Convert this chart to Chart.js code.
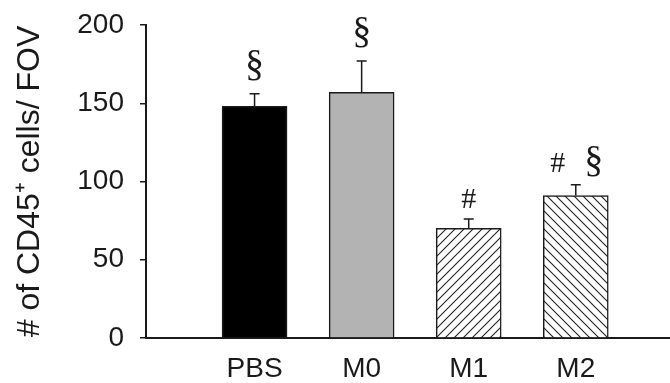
<!DOCTYPE html>
<html>
<head>
<meta charset="utf-8">
<script src="https://cdn.jsdelivr.net/npm/chart.js@4"></script>
<style>
  html, body { margin: 0; padding: 0; background: #fff; }
</style>
</head>
<body>
<canvas id="chart" width="670" height="383"></canvas>
<script>
// Data
const categories = ["PBS", "M0", "M1", "M2"];
const cellCounts = [148, 157, 70, 91];
const errors = [8, 20, 6, 7];
const markers = [["§"], ["§"], ["#"], ["#", "§"]];
const yTicks = [0, 50, 100, 150, 200];

const canvas = document.getElementById("chart");
const ink = "#1a1a1a";

// Hatch fill for M1 ("/") and M2 ("\")
function hatch(dir) {
    const s = 9;
    const tile = document.createElement("canvas");
    tile.width = s;
    tile.height = s;
    const g = tile.getContext("2d");
    g.fillStyle = "#fff";
    g.fillRect(0, 0, s, s);
    g.strokeStyle = "#222";
    g.lineWidth = 1.1;
    g.beginPath();
    if (dir > 0) {
        g.moveTo(-1, s + 1); g.lineTo(s + 1, -1);
        g.moveTo(-1, 1); g.lineTo(1, -1);
        g.moveTo(s - 1, s + 1); g.lineTo(s + 1, s - 1);
    } else {
        g.moveTo(-1, -1); g.lineTo(s + 1, s + 1);
        g.moveTo(s - 1, -1); g.lineTo(s + 1, 1);
        g.moveTo(-1, s - 1); g.lineTo(1, s + 1);
    }
    g.stroke();
    return canvas.getContext("2d").createPattern(tile, "repeat");
}

const fills = ["#000000", "#b3b3b3", hatch(1), hatch(-1)];

// Error bars + significance marks
const errorBars = {
    id: "errorBars",
    afterDatasetsDraw(chart) {
        const { ctx, scales: { y } } = chart;
        const bars = chart.getDatasetMeta(0).data;
        ctx.save();
        ctx.strokeStyle = ink;
        ctx.lineWidth = 1.5;
        bars.forEach((bar, i) => {
            const top = y.getPixelForValue(cellCounts[i] + errors[i]);
            ctx.beginPath();
            ctx.moveTo(bar.x, bar.y);
            ctx.lineTo(bar.x, top);
            ctx.moveTo(bar.x - 5, top);
            ctx.lineTo(bar.x + 5, top);
            ctx.stroke();

            const list = markers[i];
            ctx.fillStyle = ink;
            ctx.textAlign = "center";
            ctx.textBaseline = "alphabetic";
            list.forEach((m, k) => {
                const dx = (k - (list.length - 1) / 2) * 36;
                ctx.font = (m === "§" ? "38px" : "30px") + " 'Liberation Serif', 'Times New Roman', serif";
                ctx.fillText(m, bar.x + dx, top - (list.length > 1 ? 13 : m === "§" ? 18 : 11));
            });
        });
        ctx.restore();
    }
};

new Chart(canvas, {
    type: "bar",
    data: {
        datasets: [{
            data: categories.map((c, i) => ({ x: i, y: cellCounts[i] })),
            backgroundColor: fills,
            borderColor: ink,
            borderWidth: 1.5,
            barThickness: 65,
        }],
    },
    options: {
        responsive: false,
        animation: false,
        devicePixelRatio: 1,
        layout: { padding: { top: 25, right: 0, left: 0, bottom: 0 } },
        plugins: { legend: { display: false }, tooltip: { enabled: false } },
        scales: {
            x: {
                type: "linear",
                offset: false,
                min: -1.014,
                max: 3.88,
                afterBuildTicks: (s) => { s.ticks = categories.map((c, i) => ({ value: i })); },
                afterFit: (s) => { s.height = 45; s.paddingLeft = 0; s.paddingRight = 0; },
                grid: { display: false, drawTicks: false, offset: false },
                border: { display: true, color: ink, width: 2 },
                ticks: {
                    callback: (v) => categories[v],
                    font: { family: "'Liberation Sans', Arial, sans-serif", size: 28 },
                    color: ink,
                    padding: 14,
                    maxRotation: 0,
                },
            },
            y: {
                min: 0,
                max: 200,
                afterBuildTicks: (s) => { s.ticks = yTicks.map((v) => ({ value: v })); },
                afterFit: (s) => { s.width = 146; s.paddingTop = 0; s.paddingBottom = 0; },
                grid: { drawOnChartArea: false, drawTicks: true, tickLength: 6, color: ink, lineWidth: 1.5 },
                border: { display: true, color: ink, width: 2 },
                ticks: {
                    font: { family: "'Liberation Sans', Arial, sans-serif", size: 28 },
                    color: ink,
                    padding: 16,
                },
                title: {
                    display: true,
                    text: "# of CD45⁺ cells/ FOV",
                    font: { family: "'Liberation Sans', Arial, sans-serif", size: 32 },
                    color: ink,
                    padding: { top: 11, bottom: 0 },
                },
            },
        },
    },
    plugins: [errorBars],
});
</script>
</body>
</html>
